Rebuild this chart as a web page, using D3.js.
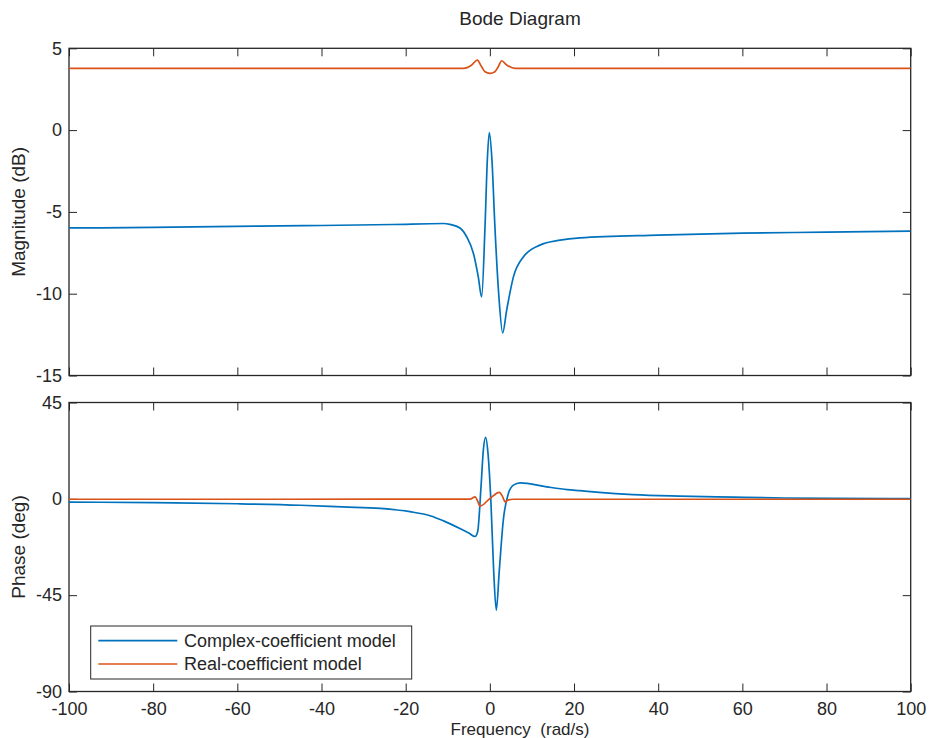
<!DOCTYPE html>
<html>
<head>
<meta charset="utf-8">
<script src="https://cdn.jsdelivr.net/npm/d3@7"></script>
<style>
  html, body { margin: 0; padding: 0; background: #fff; }
  svg { display: block; font-family: "Liberation Sans", Arial, Helvetica, sans-serif; }
  .tick text { fill: #262626; font-size: 18px; }
  .tick line { stroke: #262626; }
</style>
</head>
<body>
<svg id="chart" width="931" height="738"></svg>
<script>
// ---- data ----
const seriesNames = ["Complex-coefficient model", "Real-coefficient model"];
const xTicks = [-100, -80, -60, -40, -20, 0, 20, 40, 60, 80, 100];
const magTicks = [-15, -10, -5, 0, 5];
const phaseTicks = [-90, -45, 0, 45];

// Magnitude (dB), complex-coefficient model
const magFreqComplex = [-100, -80, -55, -40, -23, -11, -9.5, -7.1, -5.5, -3.9, -2.75, -1.95, -1.15, -0.6, -0.13, 0.5, 1.2, 2.1, 3.05, 4.0, 5.6, 7.95, 11.9, 16.7, 21.4, 40, 60, 80, 100];
const magComplex     = [-5.98, -5.95, -5.87, -5.83, -5.77, -5.71, -5.76, -5.98, -6.52, -7.54, -8.97, -10.2, -5.9, -1.83, -0.15, -1.83, -5.9, -10.0, -12.4, -11.0, -8.97, -7.75, -7.03, -6.73, -6.59, -6.42, -6.3, -6.24, -6.18];

// Magnitude (dB), real-coefficient model
const magFreqReal = [-100, -50, -6.3, -4.3, -3.0, -1.95, -1.15, 0, 1.2, 2.0, 2.8, 4.0, 6.0, 50, 100];
const magReal     = [3.77, 3.77, 3.77, 3.98, 4.28, 3.87, 3.57, 3.47, 3.57, 3.87, 4.24, 3.98, 3.77, 3.77, 3.77];

// Phase (deg), complex-coefficient model
const phaseFreqComplex = [-100, -80, -60, -45, -35, -26, -19, -14, -11, -7, -5, -3.5, -2.9, -2.1, -1.55, -1.0, -0.44, 0.27, 0.9, 1.53, 2.25, 3.2, 4.4, 5.6, 7.2, 13.5, 18.4, 21.4, 26, 34, 45, 58, 70, 82, 100];
const phaseComplex     = [-1.5, -1.8, -2.3, -3.0, -3.8, -4.5, -6.0, -8.0, -10.3, -14.0, -16.0, -17.6, -15.4, 5.6, 22.7, 28.7, 21.2, -2.2, -33.3, -52.0, -33.3, -9.9, 2.5, 6.4, 7.5, 5.6, 4.3, 3.8, 3.0, 2.0, 1.3, 0.8, 0.4, 0.2, 0.1];

// Phase (deg), real-coefficient model
const phaseFreqReal = [-100, -50, -4.7, -3.5, -3.0, -2.35, -0.1, 2.25, 3.05, 3.6, 4.4, 5.6, 50, 100];
const phaseReal     = [-0.2, -0.2, -0.1, 0.9, -0.6, -3.4, -0.1, 3.0, 0.9, -1.4, -0.5, -0.2, -0.2, -0.2];

const colors = ["#0072BD", "#D95319"];

// ---- layout ----
const svg = d3.select("#chart");
const left = 69, right = 910.7;
const top1 = 48.3, bot1 = 375.5;
const top2 = 402.5, bot2 = 691.5;
const ink = "#262626";
const fmt = d => String(d); // plain hyphen-minus like the reference

const x = d3.scaleLinear().domain([-100, 100]).range([left, right]);
const yMag = d3.scaleLinear().domain([-15, 5]).range([bot1, top1]);
const yPh = d3.scaleLinear().domain([-90, 45]).range([bot2, top2]);

function panel(y, ticks, top, bot, showX, clipId) {
  const g = svg.append("g");
  svg.append("clipPath").attr("id", clipId)
    .append("rect").attr("x", left).attr("y", top).attr("width", right - left).attr("height", bot - top);

  g.append("g").attr("transform", `translate(${left},0)`)
    .call(d3.axisLeft(y).tickValues(ticks).tickSize(-8).tickPadding(7).tickFormat(fmt))
    .call(a => a.select(".domain").remove());
  g.append("g").attr("transform", `translate(${right},0)`)
    .call(d3.axisRight(y).tickValues(ticks).tickSize(-8).tickFormat(""))
    .call(a => a.select(".domain").remove());
  g.append("g").attr("transform", `translate(0,${top})`)
    .call(d3.axisTop(x).tickValues(xTicks).tickSize(-8).tickFormat(""))
    .call(a => a.select(".domain").remove());
  g.append("g").attr("transform", `translate(0,${bot})`)
    .call(d3.axisBottom(x).tickValues(xTicks).tickSize(-8).tickPadding(10.5)
      .tickFormat(showX ? fmt : ""))
    .call(a => a.select(".domain").remove());
  g.selectAll(".tick line").attr("stroke", ink).attr("stroke-width", 1);
  g.append("rect").attr("x", left).attr("y", top).attr("width", right - left).attr("height", bot - top)
    .attr("fill", "none").attr("stroke", ink).attr("stroke-width", 1.3);
  return g;
}

panel(yMag, magTicks, top1, bot1, false, "clip1");
panel(yPh, phaseTicks, top2, bot2, true, "clip2");

function drawLine(xs, ys, yScale, color, clipId) {
  const pts = xs.map((v, i) => [v, ys[i]]);
  const line = d3.line().x(d => x(d[0])).y(d => yScale(d[1])).curve(d3.curveMonotoneX);
  svg.append("path").datum(pts)
    .attr("d", line).attr("fill", "none").attr("stroke", color)
    .attr("stroke-width", 1.7).attr("stroke-linejoin", "round")
    .attr("clip-path", `url(#${clipId})`);
}

drawLine(magFreqComplex, magComplex, yMag, colors[0], "clip1");
drawLine(magFreqReal, magReal, yMag, colors[1], "clip1");
drawLine(phaseFreqComplex, phaseComplex, yPh, colors[0], "clip2");
drawLine(phaseFreqReal, phaseReal, yPh, colors[1], "clip2");

// ---- titles and labels ----
svg.append("text").attr("x", 520).attr("y", 25).attr("text-anchor", "middle")
  .attr("fill", ink).style("font-size", "19px").text("Bode Diagram");
svg.append("text").attr("x", 520).attr("y", 735).attr("text-anchor", "middle")
  .attr("fill", ink).style("font-size", "17px").style("white-space", "pre")
  .attr("xml:space", "preserve").text("Frequency  (rad/s)");
svg.append("text").attr("transform", `translate(25,${(top1 + bot1) / 2}) rotate(-90)`)
  .attr("text-anchor", "middle").attr("fill", ink).style("font-size", "19px").text("Magnitude (dB)");
svg.append("text").attr("transform", `translate(25,${(top2 + bot2) / 2}) rotate(-90)`)
  .attr("text-anchor", "middle").attr("fill", ink).style("font-size", "19px").text("Phase (deg)");

// ---- legend ----
const lg = svg.append("g");
lg.append("rect").attr("x", 90.7).attr("y", 626).attr("width", 321).attr("height", 53)
  .attr("fill", "#fff").attr("stroke", ink).attr("stroke-width", 1);
seriesNames.forEach((name, i) => {
  const yy = 640.7 + i * 23.3;
  lg.append("line").attr("x1", 98.3).attr("x2", 177.3).attr("y1", yy).attr("y2", yy)
    .attr("stroke", colors[i]).attr("stroke-width", 1.7);
  lg.append("text").attr("x", 184).attr("y", yy).attr("dy", "0.35em")
    .attr("fill", ink).style("font-size", "18px").text(name);
});
</script>
</body>
</html>
